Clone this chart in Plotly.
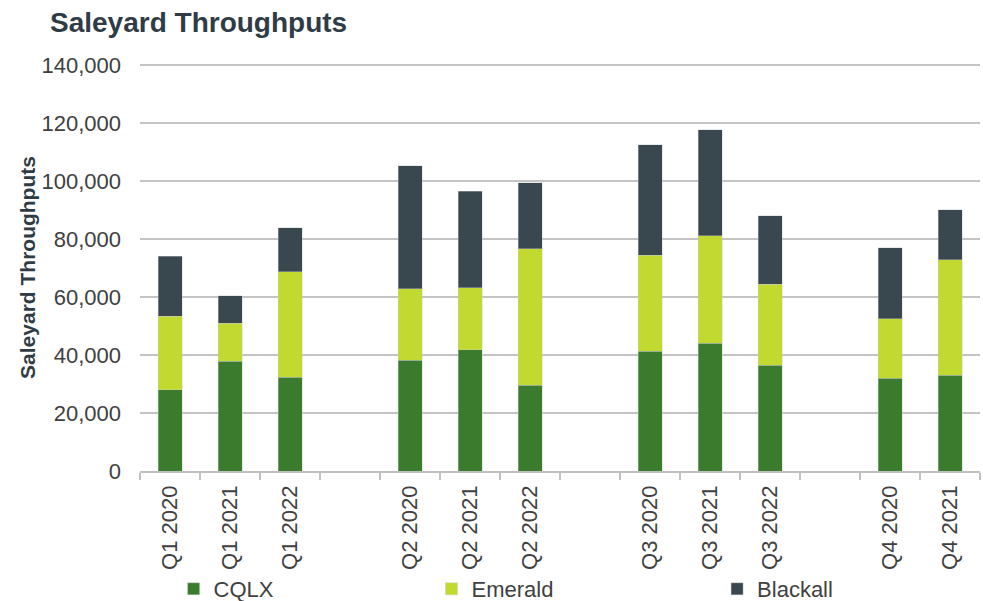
import plotly.graph_objects as go

# Quarter/year categories; blank entries separate the quarter groups
categories = ["Q1 2020", "Q1 2021", "Q1 2022", " ",
              "Q2 2020", "Q2 2021", "Q2 2022", "  ",
              "Q3 2020", "Q3 2021", "Q3 2022", "   ",
              "Q4 2020", "Q4 2021"]

cqlx = [28100, 37900, 32400, None,
        38200, 41900, 29600, None,
        41300, 44000, 36500, None,
        32000, 33000]
emerald = [25200, 13100, 36400, None,
           24600, 21400, 47000, None,
           33100, 37200, 28000, None,
           20600, 39800]
blackall = [20800, 9400, 15200, None,
            42500, 33200, 22800, None,
            38100, 36600, 23600, None,
            24500, 17400]

series = [("CQLX", cqlx, "#3a7b2d", "legend2"),
          ("Emerald", emerald, "#c2d92f", "legend3"),
          ("Blackall", blackall, "#39474f", "legend4")]

FONT = "Liberation Sans, Arial, sans-serif"
TEXT = "#404040"
DARK = "#2f3c45"

fig = go.Figure()
for name, vals, color, lg in series:
    fig.add_trace(go.Bar(
        x=categories, y=vals, name=name, legend=lg, showlegend=True,
        marker=dict(color=color, line=dict(color="#c8cccc", width=0.4)),
    ))

legend_common = dict(orientation="h", yanchor="middle", y=-0.29,
                     xanchor="left", font=dict(family=FONT, size=22, color=TEXT),
                     bgcolor="rgba(0,0,0,0)", itemwidth=30)

fig.update_layout(
    width=983, height=601,
    barmode="stack", bargap=0.6,
    plot_bgcolor="white", paper_bgcolor="white",
    margin=dict(l=140, r=3, t=64, b=130, autoexpand=False),
    title=dict(text="<b>Saleyard Throughputs</b>", xref="container", yref="container",
               x=50 / 983, xanchor="left", y=1 - 22 / 601, yanchor="middle",
               font=dict(family=FONT, size=28, color=DARK)),
    legend2=dict(legend_common, x=0.04),
    legend3=dict(legend_common, x=0.347),
    legend4=dict(legend_common, x=0.687),
    xaxis=dict(type="category", tickangle=-90, ticks="outside", tickson="boundaries",
               ticklen=7, tickcolor="#c0c0c0", tickwidth=1.5,
               showline=True, linecolor="#c0c0c0", linewidth=1.5,
               tickfont=dict(family=FONT, size=22, color=TEXT),
               ticklabelstandoff=4, showgrid=False),
    yaxis=dict(range=[0, 140400], tickvals=[0, 20000, 40000, 60000, 80000, 100000, 120000, 140000],
               tickformat=",d",
               showgrid=True, gridcolor="#c4c4c4", gridwidth=1.5,
               zeroline=False, showline=False, ticks="",
               tickfont=dict(family=FONT, size=22, color=TEXT),
               ticklabelstandoff=18,
               title=dict(text="<b>Saleyard Throughputs</b>", standoff=0,
                          font=dict(family=FONT, size=21, color=DARK))),
)

fig.write_html("out.html")
